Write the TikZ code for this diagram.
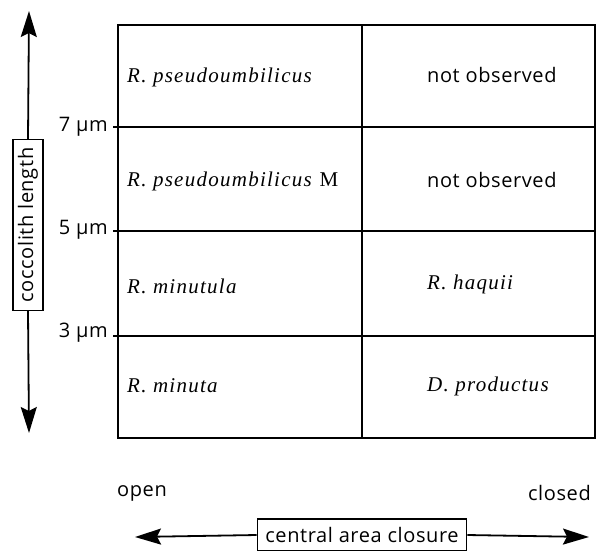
\documentclass[tikz,border=0pt]{standalone}
\usepackage{fontspec}
\setsansfont{Open Sans}
\newfontfamily\spfont[LetterSpace=6]{Liberation Serif}
\newfontfamily\lbfont[LetterSpace=3]{Open Sans}
\usetikzlibrary{arrows.meta}
\begin{document}
\begin{tikzpicture}[x=1pt,y=-1pt,
  grid/.style={line width=1.8pt},
  species/.style={anchor=west,font=\fontsize{21}{24}\spfont\itshape,inner sep=0pt},
  plain/.style={anchor=west,font=\fontsize{20}{24}\lbfont,inner sep=0pt},
  ticklab/.style={anchor=east,font=\fontsize{20}{24}\lbfont,inner sep=0pt},
  axisbox/.style={draw,line width=1.6pt,font=\fontsize{20}{24}\lbfont,inner xsep=8pt,inner ysep=5pt},
  axisarrow/.style={line width=1.8pt,-{Stealth[length=26pt,width=16pt,inset=4pt]}}]
\useasboundingbox (0,0) rectangle (596,550);
% table
\draw[grid] (118,25) rectangle (595,438);
\draw[grid] (362,25) -- (362,438);
\draw[grid] (113,127) -- (595,127);
\draw[grid] (113,231) -- (595,231);
\draw[grid] (113,336) -- (595,336);
% tick labels
\node[ticklab] (t7) at (108,127) {7 µm};
\node[ticklab] (t5) at (108,230) {5 µm};
\node[ticklab] (t3) at (108,333) {3 µm};
% cells
\node[species] (a1) at (127,77) {R. pseudoumbilicus};
\node[species] (a2) at (127,181) {R. pseudoumbilicus\/ \upshape M};
\node[species] (a3) at (127,286) {R. minutula};
\node[species] (a4) at (127,386) {R. minuta};
\node[plain] (b1) at (427,75) {not observed};
\node[plain] (b2) at (427,180) {not observed};
\node[species] (b3) at (427,284) {R. haquii};
\node[species] (b4) at (427,386) {D. productus};
% vertical axis
\node[axisbox,rotate=90] (vl) at (28,225) {coccolith length};
\coordinate (vtop) at (29,11);
\coordinate (vbot) at (29,433);
\draw[axisarrow] (vl.east) -- (vtop);
\draw[axisarrow] (vl.west) -- (vbot);
% horizontal axis
\node[plain] (open) at (117,493) {open};
\node[plain,anchor=east] (closed) at (591,493) {closed};
\node[axisbox,minimum height=32pt] (hl) at (362,535) {central area closure};
\coordinate (hleft) at (135,537);
\coordinate (hright) at (589,537);
\draw[axisarrow] (hl.west) -- (hleft);
\draw[axisarrow] (hl.east) -- (hright);
\end{tikzpicture}
\end{document}
